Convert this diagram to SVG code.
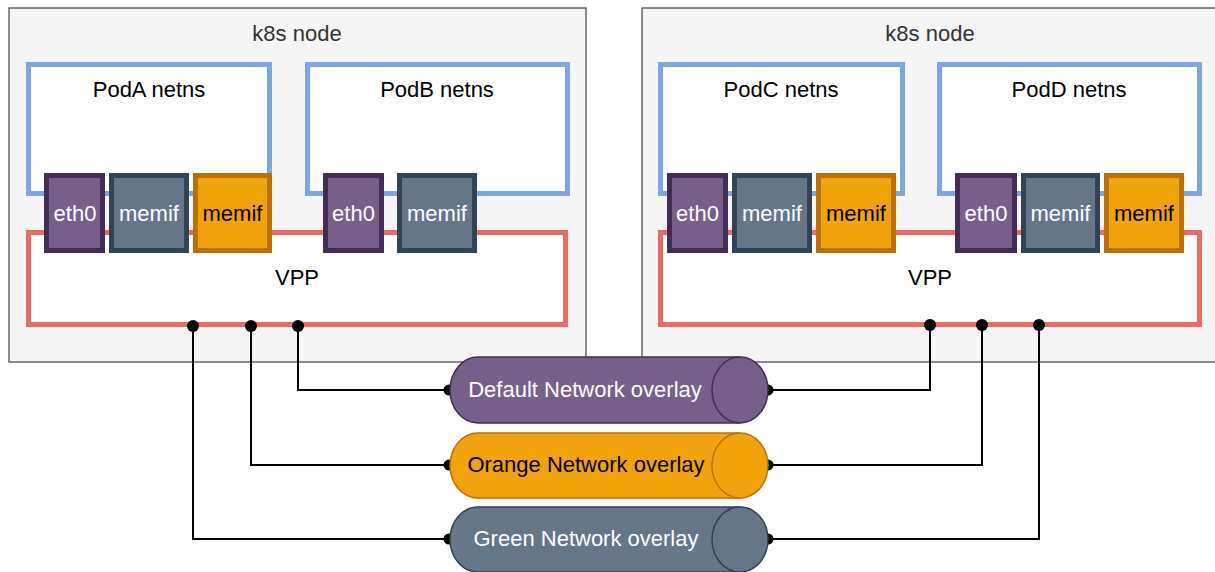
<svg xmlns="http://www.w3.org/2000/svg" width="1215" height="572" viewBox="0 0 1215 572">
  <style>
    text { font-family: "Liberation Sans", Arial, Helvetica, sans-serif; font-size: 22px; text-anchor: middle; }
    .node { fill: #f5f5f5; stroke: #666666; stroke-width: 1.5; }
    .netns { fill: #ffffff; stroke: #7ea6e0; stroke-width: 5; }
    .vpp { fill: #ffffff; stroke: #ea6b66; stroke-width: 5; }
    .eth { fill: #76608a; stroke: #432d57; stroke-width: 5; }
    .mem { fill: #647687; stroke: #314354; stroke-width: 5; }
    .orn { fill: #f0a30a; stroke: #bd7000; stroke-width: 5; }
    .light { fill: #ffffff; }
    .dark { fill: #000000; }
    .wire { fill: none; stroke: #000000; stroke-width: 2; }
    .dot { fill: #000000; }
    .cyl-def { fill: #76608a; stroke: #432d57; stroke-width: 1.5; }
    .cyl-orn { fill: #f0a30a; stroke: #bd7000; stroke-width: 1.5; }
    .cyl-grn { fill: #647687; stroke: #314354; stroke-width: 1.5; }
  </style>

  <!-- left host -->
  <g id="node-left">
    <rect class="node" x="9" y="8" width="577" height="354"/>
    <text x="297" y="41" fill="#333333">k8s node</text>
  </g>
  <g id="vpp-left">
    <rect class="vpp" x="28.5" y="232.5" width="537" height="92"/>
    <text x="297" y="285">VPP</text>
  </g>
  <g id="poda">
    <rect class="netns" x="28.5" y="64.5" width="241" height="129"/>
    <text x="149" y="97">PodA netns</text>
  </g>
  <g id="podb">
    <rect class="netns" x="307.5" y="64.5" width="260" height="129"/>
    <text x="437" y="97">PodB netns</text>
  </g>
  <g id="poda-eth0">
    <rect class="eth" x="46.5" y="175.5" width="56" height="75"/>
    <text class="light" x="75" y="221">eth0</text>
  </g>
  <g id="poda-memif1">
    <rect class="mem" x="111.5" y="175.5" width="75" height="75"/>
    <text class="light" x="149" y="221">memif</text>
  </g>
  <g id="poda-memif2">
    <rect class="orn" x="195.5" y="175.5" width="74" height="75"/>
    <text class="dark" x="232.5" y="221">memif</text>
  </g>
  <g id="podb-eth0">
    <rect class="eth" x="325.5" y="175.5" width="56" height="75"/>
    <text class="light" x="353.5" y="221">eth0</text>
  </g>
  <g id="podb-memif">
    <rect class="mem" x="399.5" y="175.5" width="75" height="75"/>
    <text class="light" x="437" y="221">memif</text>
  </g>

  <!-- right host -->
  <g id="node-right">
    <rect class="node" x="642" y="8" width="580" height="354"/>
    <text x="930" y="41" fill="#333333">k8s node</text>
  </g>
  <g id="vpp-right">
    <rect class="vpp" x="660.5" y="232.5" width="539" height="92"/>
    <text x="930" y="285">VPP</text>
  </g>
  <g id="podc">
    <rect class="netns" x="660.5" y="64.5" width="242" height="129"/>
    <text x="781" y="97">PodC netns</text>
  </g>
  <g id="podd">
    <rect class="netns" x="939.5" y="64.5" width="260" height="129"/>
    <text x="1069" y="97">PodD netns</text>
  </g>
  <g id="podc-eth0">
    <rect class="eth" x="669.5" y="175.5" width="56" height="75"/>
    <text class="light" x="697.5" y="221">eth0</text>
  </g>
  <g id="podc-memif1">
    <rect class="mem" x="734.5" y="175.5" width="75" height="75"/>
    <text class="light" x="772" y="221">memif</text>
  </g>
  <g id="podc-memif2">
    <rect class="orn" x="818.5" y="175.5" width="75" height="75"/>
    <text class="dark" x="856" y="221">memif</text>
  </g>
  <g id="podd-eth0">
    <rect class="eth" x="957.5" y="175.5" width="57" height="75"/>
    <text class="light" x="986" y="221">eth0</text>
  </g>
  <g id="podd-memif1">
    <rect class="mem" x="1023.5" y="175.5" width="74" height="75"/>
    <text class="light" x="1060.5" y="221">memif</text>
  </g>
  <g id="podd-memif2">
    <rect class="orn" x="1106.5" y="175.5" width="75" height="75"/>
    <text class="dark" x="1144" y="221">memif</text>
  </g>

  <!-- overlay links -->
  <g id="connectors">
    <path class="wire" d="M298,326 V390 H448"/>
    <path class="wire" d="M251,326 V465 H448"/>
    <path class="wire" d="M193,326 V539 H448"/>
    <path class="wire" d="M769,390 H930 V325"/>
    <path class="wire" d="M769,465 H982 V325"/>
    <path class="wire" d="M769,539 H1039 V325"/>
    <circle class="dot" cx="298" cy="326" r="6"/>
    <circle class="dot" cx="251" cy="326" r="6"/>
    <circle class="dot" cx="193" cy="326" r="6"/>
    <circle class="dot" cx="930" cy="325" r="6"/>
    <circle class="dot" cx="982" cy="325" r="6"/>
    <circle class="dot" cx="1039" cy="325" r="6"/>
    <circle class="dot" cx="449" cy="390" r="5.5"/>
    <circle class="dot" cx="449" cy="465" r="5.5"/>
    <circle class="dot" cx="449" cy="539" r="5.5"/>
    <circle class="dot" cx="768" cy="390" r="5.5"/>
    <circle class="dot" cx="768" cy="465" r="5.5"/>
    <circle class="dot" cx="768" cy="539" r="5.5"/>
  </g>

  <!-- overlay networks -->
  <g id="overlay-default">
    <path class="cyl-def" d="M478,357 H740 A28,33 0 0 1 740,423 H478 A28,33 0 0 1 478,357 Z"/>
    <path class="cyl-def" d="M740,357 A28,33 0 0 0 740,423"/>
    <text class="light" x="585" y="397">Default Network overlay</text>
  </g>
  <g id="overlay-orange">
    <path class="cyl-orn" d="M478,433 H740 A28,32.5 0 0 1 740,498 H478 A28,32.5 0 0 1 478,433 Z"/>
    <path class="cyl-orn" d="M740,433 A28,32.5 0 0 0 740,498"/>
    <text class="dark" x="586" y="472">Orange Network overlay</text>
  </g>
  <g id="overlay-green">
    <path class="cyl-grn" d="M478,507 H740 A28,32.5 0 0 1 740,572 H478 A28,32.5 0 0 1 478,507 Z"/>
    <path class="cyl-grn" d="M740,507 A28,32.5 0 0 0 740,572"/>
    <text class="light" x="586" y="546">Green Network overlay</text>
  </g>
</svg>
